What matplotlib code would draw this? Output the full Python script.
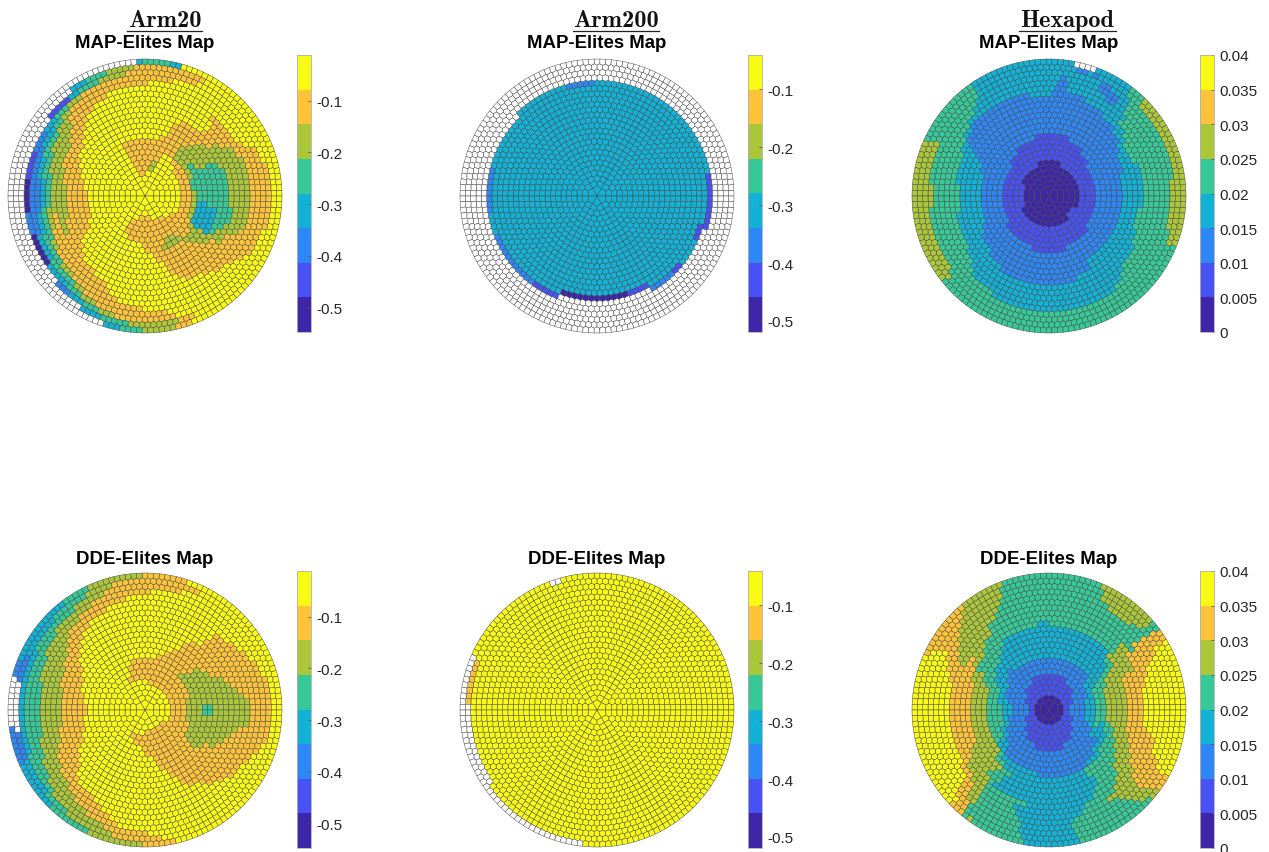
import numpy as np
import matplotlib
matplotlib.use("Agg")
import matplotlib.pyplot as plt
from matplotlib.collections import PolyCollection
from matplotlib.colors import ListedColormap, Normalize
from matplotlib.cm import ScalarMappable
from matplotlib.lines import Line2D

plt.rcParams['font.family'] = ['Liberation Sans', 'DejaVu Sans']

W, H = 1269, 853
N_RINGS = 25
PARULA8 = ["#3e26a8", "#4852f4", "#2e87f7", "#12b1d6", "#37c897", "#abc739", "#fec338", "#f9fb15"]

# one row per ring, centre first; "level:end_angle" going ccw from east, w = empty cell
arm20_map = [
    "7:360", "7:360", "7:360",
    "7:85 6:108 7:258 6:292 7:360",
    "7:66 5:78 6:110 7:245 6:312 7:360",
    "7:68 5:80 6:112 7:238 6:325 7:360",
    "6:40 7:70 6:114 7:236 6:360",
    "6:55 7:66 6:114 7:250 6:360",
    "5:8 4:22 5:56 6:112 7:268 6:292 5:308 6:330 5:360",
    "4:34 5:52 6:112 7:272 6:288 5:312 6:322 5:332 3:355 4:360",
    "4:28 5:54 6:75 7:175 6:200 7:278 6:312 5:328 3:354 4:360",
    "4:26 5:52 6:72 7:165 6:208 7:282 6:316 5:328 3:352 4:360",
    "4:26 5:48 6:70 7:156 6:212 7:285 6:320 5:328 3:350 4:360",
    "4:24 5:44 6:68 7:150 6:214 7:286 6:322 5:332 4:360",
    "4:20 5:36 6:62 7:140 6:170 5:195 6:220 7:288 6:326 5:335 4:360",
    "5:36 6:47 7:135 6:160 5:205 6:225 7:292 6:328 5:340 4:352 5:360",
    "5:32 6:46 7:130 6:146 5:190 6:238 7:298 6:335 5:360",
    "5:30 6:48 7:125 6:140 5:167 4:188 5:200 6:248 7:306 6:338 5:360",
    "5:22 6:52 7:120 6:136 5:155 4:172 3:186 4:205 5:212 6:250 7:313 6:340 5:360",
    "6:31 7:110 6:135 5:145 4:158 3:172 2:188 3:200 4:218 5:228 6:255 7:320 6:360",
    "6:27 7:88 6:130 5:136 4:144 3:155 2:200 3:215 4:230 5:236 6:268 7:325 6:360",
    "6:24 7:75 6:122 5:132 4:138 3:148 2:158 1:172 0:188 2:200 0:215 3:228 4:236 5:246 6:282 7:330 6:360",
    "6:15 7:66 6:100 5:112 4:122 3:128 1:140 w:225 2:232 3:240 4:247 5:255 6:285 7:345 6:360",
    "7:63 6:96 5:108 4:118 3:125 w:240 3:250 4:262 5:284 6:292 7:360",
    "7:74 3:78 4:90 3:93 w:253 3:258 4:268 5:282 6:290 7:360",
]
arm200_map = ["3:360"] * 18 + [
    "3:248 0:288 1:300 3:360",
    "3:165 2:190 3:200 2:235 1:250 w:300 2:316 1:322 3:335 1:345 3:360",
    "1:12 3:90 2:105 3:135 w:343 1:360",
    "w:360", "w:360", "w:360", "w:360",
]
hexapod_map = [
    "0:360", "0:360", "0:360", "0:360",
    "0:150 1:200 0:310 1:330 0:360",
    "1:72 0:105 1:360",
    "1:360", "1:360",
    "2:40 1:140 2:215 1:320 2:360",
    "2:55 1:125 2:250 1:290 2:360",
    "2:72 1:105 2:360",
    "2:360",
    "2:160 3:205 2:360",
    "3:15 2:155 3:212 2:302 3:360",
    "3:30 2:150 3:222 2:300 3:360",
    "3:36 2:149 3:236 2:290 3:360",
    "3:20 4:34 3:45 2:148 3:172 4:190 3:338 4:352 3:360",
    "4:40 3:58 2:146 3:152 4:212 3:330 4:360",
    "4:46 3:70 2:88 3:102 2:140 3:145 4:222 3:316 4:360",
    "4:44 3:80 2:86 3:138 4:226 3:312 4:360",
    "4:48 3:53 2:60 3:80 2:86 3:132 4:240 3:305 4:360",
    "4:50 3:55 2:66 3:82 2:85 3:128 4:175 5:186 4:360",
    "5:8 4:50 3:60 2:64 3:126 4:155 5:216 4:345 5:360",
    "5:46 4:52 3:67 2:71 3:73 2:77 3:124 4:155 5:219 4:338 5:360",
    "5:46 4:52 3:70 w:78 3:124 4:155 5:219 4:338 5:360",
]
arm20_dde = [
    "7:360", "7:360", "7:360",
    "7:270 6:335 7:360",
    "6:85 7:245 6:360",
    "6:116 7:250 6:360",
    "6:114 7:268 6:360",
    "5:15 6:112 7:272 6:345 5:360",
    "5:44 6:104 7:278 6:325 5:360",
    "5:42 6:80 7:282 6:322 5:360",
    "4:5 5:40 6:72 7:175 6:185 7:285 6:322 5:355 4:360",
    "4:4 5:38 6:66 7:165 6:198 7:288 6:326 5:356 4:360",
    "5:30 6:62 7:152 6:206 7:292 6:330 5:360",
    "5:26 6:58 7:146 6:212 7:294 6:332 5:360",
    "5:22 6:56 7:142 6:215 7:296 6:334 5:360",
    "5:17 6:50 7:138 6:165 5:193 6:220 7:300 6:340 5:360",
    "5:14 6:48 7:135 6:152 5:200 6:224 7:306 6:345 5:360",
    "5:10 6:46 7:130 6:144 5:208 6:225 7:310 6:350 5:360",
    "5:5 6:46 7:122 6:140 5:214 6:240 7:316 6:352 5:360",
    "6:40 7:110 6:134 5:165 4:195 5:224 6:246 7:322 6:360",
    "6:30 7:100 6:125 5:150 4:205 5:230 6:250 7:330 6:360",
    "6:24 7:88 6:118 5:140 4:215 5:240 6:255 7:338 6:360",
    "6:16 7:74 6:110 5:126 4:150 3:200 4:222 5:250 6:272 7:345 6:360",
    "7:66 6:104 5:118 4:135 3:155 2:168 w:190 2:202 3:220 4:232 5:255 6:278 7:360",
    "7:72 6:92 5:115 4:128 3:158 2:165 w:188 2:205 3:226 4:245 5:268 6:282 7:360",
]
arm200_dde = ["7:360"] * 23 + [
    "7:158 6:178 w:214 7:360",
    "7:105 w:110 7:155 w:263 7:360",
]
hexapod_dde = [
    "0:360", "0:360",
    "1:360",
    "2:15 1:165 2:195 1:345 2:360",
    "2:40 1:148 2:212 1:328 2:360",
    "2:62 1:122 2:232 1:305 2:360",
    "3:20 2:170 3:190 2:250 1:292 2:340 3:360",
    "3:35 2:165 3:205 2:335 3:360",
    "4:25 3:38 2:148 3:170 4:198 3:216 2:325 3:340 4:360",
    "4:30 3:130 2:140 3:155 4:210 3:224 2:330 3:345 4:360",
    "5:22 4:34 3:152 4:215 3:226 2:318 3:336 4:350 5:360",
    "5:28 4:36 3:146 4:160 5:218 4:226 3:262 2:305 3:322 4:345 5:360",
    "5:30 4:38 3:135 4:158 5:222 4:230 3:300 4:335 5:360",
    "5:35 4:42 3:130 4:150 5:230 4:240 3:302 4:332 5:360",
    "6:24 5:42 3:125 4:150 5:160 6:204 5:226 4:237 3:305 4:322 5:342 6:360",
    "6:28 5:42 4:90 3:96 4:140 5:150 6:206 5:226 4:236 3:302 4:320 5:338 6:360",
    "6:24 5:44 4:134 5:146 6:212 5:228 4:234 3:300 4:316 5:332 6:360",
    "7:14 6:36 5:42 4:128 5:152 6:212 5:230 4:258 3:295 4:312 5:328 6:350 7:360",
    "7:18 6:36 4:126 5:150 6:165 7:212 6:222 5:232 4:250 3:290 4:310 5:326 6:348 7:360",
    "7:23 6:38 4:120 5:148 6:160 7:218 6:224 5:232 4:252 3:288 4:304 5:322 6:345 7:360",
    "7:26 6:38 4:118 5:142 6:155 7:220 6:225 5:232 4:254 3:284 4:308 5:320 6:338 7:360",
    "7:28 6:38 4:46 5:60 4:114 5:138 6:150 7:222 6:226 5:231 4:256 3:282 4:312 5:320 6:336 7:360",
    "7:30 6:36 4:42 5:64 4:113 5:136 6:150 7:222 6:229 4:256 3:282 4:312 5:322 6:332 7:360",
    "7:30 6:38 4:41 5:66 4:112 5:132 6:152 7:224 6:230 4:258 3:282 4:316 5:322 6:330 7:360",
    "7:30 6:37 4:40 5:68 4:110 5:130 6:155 7:224 6:230 4:233 5:236 4:258 3:283 4:318 5:323 6:330 7:360",
]

arm_ticks = [-0.5, -0.4, -0.3, -0.2, -0.1]
arm_labels = ["-0.5", "-0.4", "-0.3", "-0.2", "-0.1"]
hex_ticks = [0, 0.005, 0.01, 0.015, 0.02, 0.025, 0.03, 0.035, 0.04]
hex_labels = ["0", "0.005", "0.01", "0.015", "0.02", "0.025", "0.03", "0.035", "0.04"]

# rows, title, centre x, centre y, colorbar x, title y, colorbar top, colour range, ticks, tick labels
panels = [
    (arm20_map, "MAP-Elites Map", 145, 197, 297, 44, 56, (-0.548, -0.011), arm_ticks, arm_labels),
    (arm200_map, "MAP-Elites Map", 597, 197, 748, 44, 56, (-0.519, -0.041), arm_ticks, arm_labels),
    (hexapod_map, "MAP-Elites Map", 1049, 197, 1200, 44, 56, (0, 0.04), hex_ticks, hex_labels),
    (arm20_dde, "DDE-Elites Map", 145, 711, 297, 560, 572, (-0.548, -0.011), arm_ticks, arm_labels),
    (arm200_dde, "DDE-Elites Map", 597, 711, 748, 560, 572, (-0.519, -0.041), arm_ticks, arm_labels),
    (hexapod_dde, "DDE-Elites Map", 1049, 711, 1200, 560, 572, (0, 0.04), hex_ticks, hex_labels),
]


def clip(poly, point, normal):
    # keep the part of poly with (p - point).normal <= 0
    d = (poly - point) @ normal
    inside = d <= 0
    if inside.all():
        return poly
    out = []
    n = len(poly)
    for i in range(n):
        j = (i + 1) % n
        if inside[i]:
            out.append(poly[i])
        if inside[i] != inside[j]:
            t = d[i] / (d[i] - d[j])
            out.append(poly[i] + t * (poly[j] - poly[i]))
    return np.array(out)


def build_cells(radius):
    # rings of 6k sites, inner rings pushed out a bit like the relaxed tessellation
    step = 5.48
    rings, angles, pts = [], [], []
    for k in range(1, N_RINGS + 1):
        r = (step * (k - 0.5) + 4.2 * (1 - (k - 1) / 24)) / radius
        for j in range(6 * k):
            a = 60.0 * (j + 0.5) / k
            rings.append(k)
            angles.append(a)
            pts.append((r * np.cos(np.radians(a)), r * np.sin(np.radians(a))))
    pts = np.array(pts)
    t = np.radians(np.arange(0, 360, 1.5))
    circle = np.column_stack([np.cos(t), np.sin(t)])
    s = 0.14
    square = np.array([[-s, -s], [s, -s], [s, s], [-s, s]])
    cells = []
    for i, p in enumerate(pts):
        poly = circle.copy() if rings[i] >= N_RINGS - 2 else square + p
        dist = np.hypot(*(pts - p).T)
        for q in np.argsort(dist)[1:22]:
            poly = clip(poly, (p + pts[q]) / 2, pts[q] - p)
        cells.append(poly)
    return rings, angles, cells


def level_at(row, angle):
    for run in row.split():
        level, end = run.split(":")
        if angle <= float(end):
            return np.nan if level == "w" else float(level)
    return np.nan


R = 137.0
rings, angles, cells = build_cells(R)
cmap = ListedColormap(PARULA8)
cmap.set_bad("white")

fig = plt.figure(figsize=(W / 100, H / 100), dpi=100)

for rows, title, cx, cy, bar_x, title_y, bar_top, vrange, ticks, labels in panels:
    ax = fig.add_axes([(cx - R - 2) / W, 1 - (cy + R + 2) / H, (2 * R + 4) / W, (2 * R + 4) / H])
    lim = (R + 2) / R
    ax.set_xlim(-lim, lim)
    ax.set_ylim(-lim, lim)
    ax.axis("off")
    levels = [level_at(rows[k - 1], a) for k, a in zip(rings, angles)]
    pc = PolyCollection(cells, cmap=cmap, norm=Normalize(0, 8), edgecolors="#444444", linewidths=0.33)
    pc.set_array(np.ma.masked_invalid(np.array(levels) + 0.5))
    ax.add_collection(pc)
    fig.text(cx / W, 1 - title_y / H, title, ha="center", va="center",
             fontsize=13.4, fontweight="bold", color="black")

    cax = fig.add_axes([bar_x / W, 1 - (bar_top + 277) / H, 14 / W, 277 / H])
    cb = fig.colorbar(ScalarMappable(Normalize(*vrange), cmap), cax=cax, ticks=ticks)
    cb.ax.set_yticklabels(labels)
    cb.ax.tick_params(direction="in", length=2, width=0.6, color="#555555",
                      labelsize=11, labelcolor="#262626", pad=4)
    cb.outline.set_edgecolor("#b0b0b0")
    cb.outline.set_linewidth(0.6)

headers = [("Arm20", 165, 127, 202), ("Arm200", 616, 573, 659), ("Hexapod", 1067, 1019, 1116)]
for name, x, x0, x1 in headers:
    fig.text(x / W, 1 - 21 / H, name, ha="center", va="center", fontsize=17.5, family="cmb10", color="#111111")
    fig.add_artist(Line2D([x0 / W, x1 / W], [1 - 32 / H, 1 - 32 / H], color="#222222", lw=0.9))

fig.savefig("out.png", dpi=100)
